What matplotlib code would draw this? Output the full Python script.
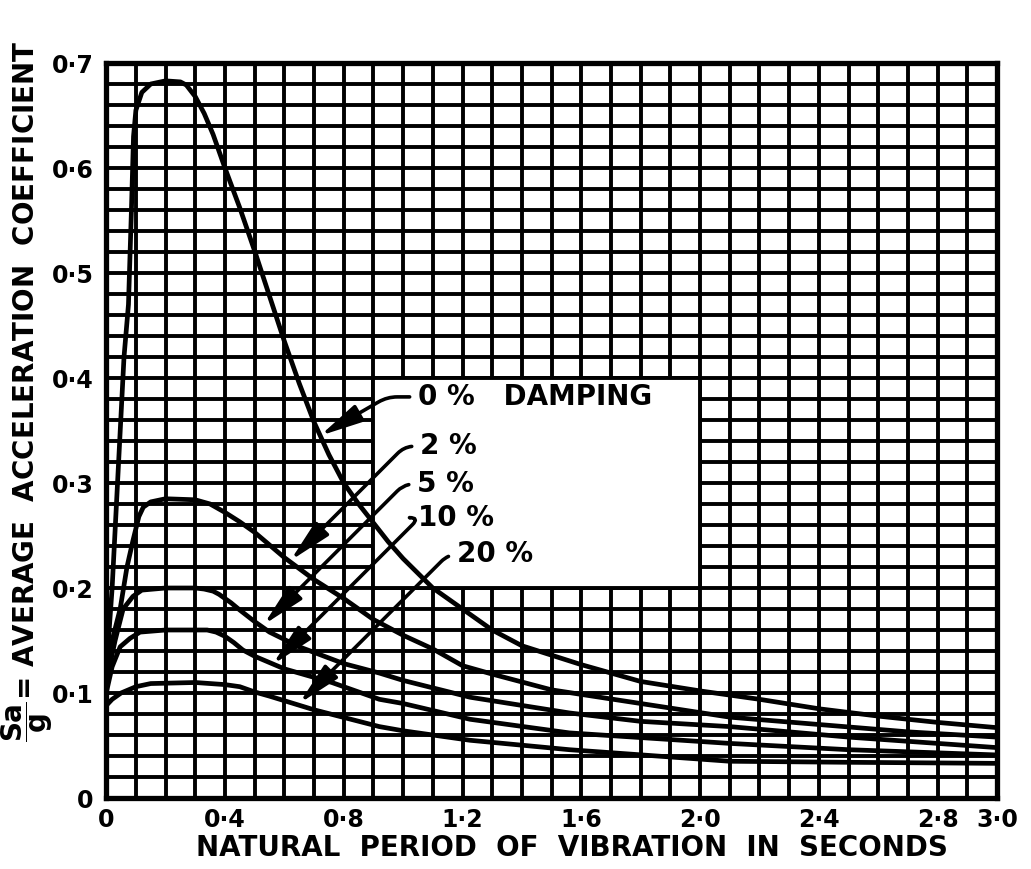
import numpy as np
import matplotlib.pyplot as plt
from matplotlib.patches import Rectangle

plt.rcParams['font.family'] = ['DejaVu Sans']
plt.rcParams['font.weight'] = 'bold'
plt.rcParams['mathtext.fontset'] = 'dejavusans'

# ---- values (period T in s, Sa/g) ----
t_0 = [0, 0.02, 0.04, 0.06, 0.075, 0.085, 0.092, 0.1, 0.12, 0.15, 0.2, 0.25, 0.27, 0.3, 0.33,
       0.36, 0.4, 0.45, 0.5, 0.55, 0.6, 0.65, 0.7, 0.75, 0.8, 0.85, 0.9, 0.95, 1.0, 1.1, 1.2,
       1.3, 1.4, 1.6, 1.8, 2.0, 2.2, 2.4, 2.6, 2.8, 3.0]
sa_0 = [0.12, 0.20, 0.31, 0.42, 0.47, 0.56, 0.63, 0.655, 0.672, 0.68, 0.683, 0.682, 0.679, 0.668, 0.652,
        0.632, 0.60, 0.562, 0.521, 0.478, 0.435, 0.395, 0.358, 0.327, 0.30, 0.28, 0.262, 0.244, 0.228, 0.20, 0.18,
        0.16, 0.145, 0.127, 0.111, 0.102, 0.094, 0.085, 0.078, 0.072, 0.067]

t_2 = [0, 0.02, 0.047, 0.07, 0.09, 0.11, 0.125, 0.15, 0.2, 0.3, 0.35, 0.4, 0.45, 0.5, 0.6,
       0.7, 0.8, 0.9, 1.0, 1.1, 1.2, 1.3, 1.5, 1.8, 2.1, 2.4, 2.7, 3.0]
sa_2 = [0.12, 0.15, 0.18, 0.22, 0.245, 0.268, 0.277, 0.282, 0.285, 0.284, 0.28, 0.272, 0.263, 0.253, 0.229,
        0.208, 0.19, 0.17, 0.155, 0.142, 0.126, 0.118, 0.103, 0.09, 0.077, 0.07, 0.063, 0.058]

t_5 = [0, 0.03, 0.057, 0.09, 0.12, 0.2, 0.3, 0.33, 0.36, 0.38, 0.42, 0.45, 0.5, 0.55, 0.65, 0.8, 0.92,
       1.0, 1.225, 1.56, 1.8, 2.1, 2.5, 3.0]
sa_5 = [0.11, 0.15, 0.18, 0.192, 0.198, 0.2, 0.2, 0.199, 0.197, 0.194, 0.186, 0.179, 0.168, 0.158, 0.144,
        0.128, 0.119, 0.112, 0.096, 0.081, 0.073, 0.068, 0.058, 0.048]

t_10 = [0, 0.02, 0.047, 0.08, 0.114, 0.2, 0.3, 0.34, 0.37, 0.4, 0.43, 0.46, 0.5, 0.6, 0.76, 0.92, 1.0,
        1.225, 1.56, 2.1, 2.5, 3.0]
sa_10 = [0.1, 0.125, 0.144, 0.152, 0.158, 0.16, 0.16, 0.16, 0.158, 0.154, 0.148, 0.141, 0.135, 0.123,
         0.11, 0.094, 0.09, 0.075, 0.062, 0.052, 0.046, 0.041]

t_20 = [0, 0.02, 0.05, 0.1, 0.15, 0.3, 0.4, 0.45, 0.5, 0.55, 0.7, 0.92, 1.0, 1.225, 1.56, 2.1, 2.5, 3.0]
sa_20 = [0.088, 0.094, 0.1, 0.106, 0.109, 0.11, 0.108, 0.106, 0.101, 0.097, 0.084, 0.068, 0.064, 0.055,
         0.046, 0.035, 0.034, 0.033]

x_ticks = [0, 0.4, 0.8, 1.2, 1.6, 2.0, 2.4, 2.8, 3.0]
x_labels = ['0', '0·4', '0·8', '1·2', '1·6', '2·0', '2·4', '2·8', '3·0']
y_ticks = [0, 0.1, 0.2, 0.3, 0.4, 0.5, 0.6, 0.7]
y_labels = ['0', '0·1', '0·2', '0·3', '0·4', '0·5', '0·6', '0·7']

# label text, arrow tip on the curve, text anchor, leader angle
labels = ['0 %   DAMPING', '2 %', '5 %', '10 %', '20 %']
tips = [(0.72, 0.345), (0.62, 0.226), (0.53, 0.165), (0.56, 0.127), (0.65, 0.09)]
text_pos = [(1.05, 0.382), (1.057, 0.335), (1.047, 0.299), (1.05, 0.267), (1.18, 0.232)]
leader_angle = [30, 45, 45, 45, 45]

fig = plt.figure(figsize=(10.31, 8.69), dpi=100)
ax = fig.add_axes([0.103, 0.0817, 0.864, 0.8458])

ax.set_xlim(0, 3.0)
ax.set_ylim(0, 0.7)
ax.set_axisbelow(True)

# graph-paper grid
ax.set_xticks(np.arange(0, 3.01, 0.1), minor=True)
ax.set_yticks(np.arange(0, 0.701, 0.02), minor=True)
ax.grid(True, which='minor', color='black', linewidth=2.8)
ax.grid(True, which='major', color='black', linewidth=2.8)

# blank panel holding the labels
ax.add_patch(Rectangle((0.9, 0.2), 1.1, 0.2, facecolor='white', edgecolor='black',
                       linewidth=2.8, zorder=1.5))

for t, s in [(t_0, sa_0), (t_2, sa_2), (t_5, sa_5), (t_10, sa_10), (t_20, sa_20)]:
    ax.plot(t, s, color='black', linewidth=3.4, zorder=2,
            solid_joinstyle='round', solid_capstyle='round')

for lab, tip, pos, ang in zip(labels, tips, text_pos, leader_angle):
    ax.annotate(lab, xy=tip, xytext=pos, ha='left', va='center', fontsize=20,
                fontweight='bold', zorder=4,
                arrowprops=dict(arrowstyle='-|>,head_length=1.3,head_width=0.28',
                                connectionstyle=f'angle,angleA=0,angleB={ang},rad=10',
                                color='black', linewidth=2.6, relpos=(0, 0.5),
                                shrinkA=4, shrinkB=0))

ax.set_xticks(x_ticks)
ax.set_xticklabels(x_labels, fontsize=17, fontweight='bold')
ax.set_yticks(y_ticks)
ax.set_yticklabels(y_labels, fontsize=17, fontweight='bold')
ax.tick_params(which='both', length=0)
ax.tick_params(axis='x', pad=7)
ax.tick_params(axis='y', pad=9)

for sp in ax.spines.values():
    sp.set_linewidth(3.8)

fig.text(0.555, 0.024, 'NATURAL  PERIOD  OF  VIBRATION  IN  SECONDS',
         ha='center', va='center', fontsize=20, fontweight='bold')
fig.text(0.026, 0.55, r'$\dfrac{\mathbf{Sa}}{\mathbf{g}}$= AVERAGE  ACCELERATION  COEFFICIENT',
         rotation=90, ha='center', va='center', fontsize=20, fontweight='bold')

fig.savefig('out.png', dpi=100)
